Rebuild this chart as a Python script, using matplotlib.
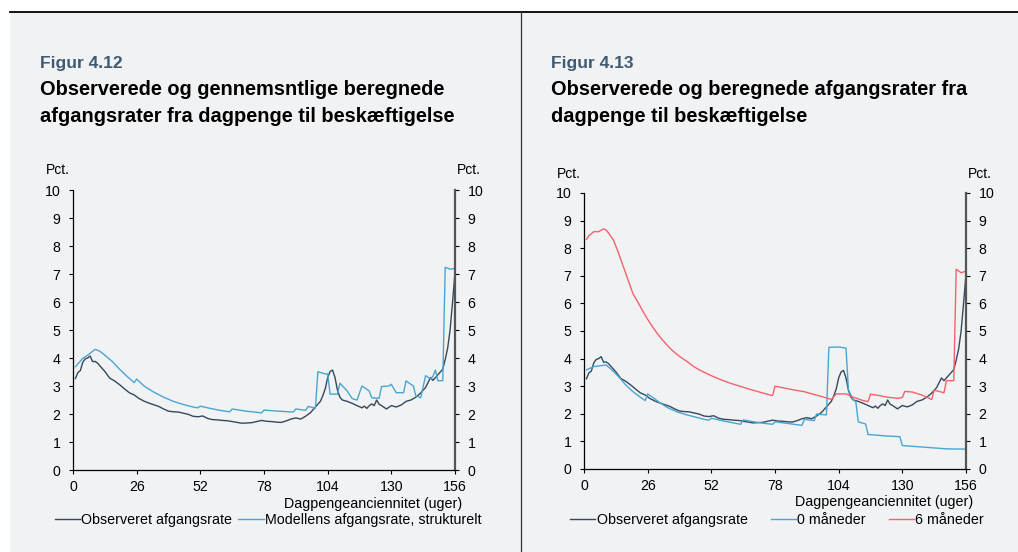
import numpy as np
import matplotlib.pyplot as plt
from matplotlib.lines import Line2D
from matplotlib.patches import Rectangle

plt.rcParams['font.family'] = ['Liberation Sans', 'DejaVu Sans']

# Observeret afgangsrate (same series in both figures)
obs_wk = [1, 2, 3, 4, 5, 6, 7, 8, 9, 10, 12, 13, 15, 17, 19, 21, 23, 25, 27, 29,
          31, 33, 35, 37, 39, 41, 43, 45, 47, 49, 51, 53, 55, 57, 59, 61, 63, 65,
          67, 69, 71, 73, 75, 77, 79, 81, 83, 85, 87, 89, 91, 93, 95, 97, 99, 101,
          102, 103, 104, 105, 106, 107, 108, 109, 110, 112, 114, 116, 118, 119,
          120, 121, 122, 123, 124, 125, 126, 128, 130, 132, 134, 136, 138, 140,
          142, 144, 146, 147, 148, 150, 151, 152, 153, 154, 155, 156]
obs_val = [3.27, 3.48, 3.55, 3.85, 3.97, 4.00, 4.07, 3.87, 3.88, 3.82, 3.62, 3.52,
           3.28, 3.18, 3.05, 2.90, 2.76, 2.68, 2.55, 2.46, 2.39, 2.33, 2.27, 2.18,
           2.10, 2.08, 2.07, 2.03, 1.99, 1.92, 1.90, 1.93, 1.84, 1.80, 1.79, 1.77,
           1.76, 1.73, 1.70, 1.67, 1.68, 1.69, 1.73, 1.77, 1.74, 1.73, 1.71, 1.70,
           1.75, 1.82, 1.86, 1.82, 1.92, 2.05, 2.25, 2.45, 2.65, 2.90, 3.30, 3.52,
           3.57, 3.30, 2.85, 2.60, 2.50, 2.45, 2.38, 2.30, 2.22, 2.28, 2.20, 2.30,
           2.36, 2.30, 2.50, 2.35, 2.30, 2.18, 2.30, 2.25, 2.32, 2.45, 2.50, 2.60,
           2.75, 2.95, 3.30, 3.20, 3.30, 3.50, 3.60, 3.95, 4.35, 5.00, 6.00, 7.05]

# Modellens afgangsrate, strukturelt (Figur 4.12)
mod_wk = [1, 4, 6, 9, 11, 13, 16, 19, 22, 25, 26, 29, 33, 37, 41, 45, 49, 51, 52,
          56, 60, 64, 65, 70, 74, 77, 78, 84, 90, 91, 95, 96, 99, 100, 103, 104,
          105, 108, 109, 112, 114, 116, 118, 121, 122, 125, 126, 129, 130, 132,
          135, 136, 139, 140, 142, 144, 146, 147, 148, 149, 151, 152, 154, 156]
mod_val = [3.69, 3.99, 4.10, 4.31, 4.24, 4.10, 3.88, 3.60, 3.35, 3.12, 3.25, 3.00,
           2.78, 2.60, 2.45, 2.34, 2.25, 2.22, 2.28, 2.20, 2.13, 2.08, 2.18, 2.11,
           2.07, 2.04, 2.14, 2.10, 2.07, 2.18, 2.13, 2.27, 2.21, 3.51, 3.43, 3.43,
           2.71, 2.71, 3.10, 2.82, 2.55, 2.50, 3.00, 2.82, 2.58, 2.56, 2.98, 3.00,
           3.06, 2.76, 2.76, 3.18, 3.00, 2.65, 2.58, 3.37, 3.25, 3.35, 3.57, 3.19,
           3.19, 7.24, 7.17, 7.20]

# 0 maaneder (Figur 4.13)
m0_wk = [1, 4, 9, 11, 14, 17, 20, 23, 25, 26, 28, 31, 34, 38, 42, 46, 50, 51, 52,
         57, 61, 64, 65, 70, 74, 77, 78, 84, 89, 90, 94, 95, 99, 100, 104, 107,
         108, 110, 111, 112, 115, 116, 123, 129, 130, 136, 142, 148, 156]
m0_val = [3.59, 3.71, 3.77, 3.62, 3.36, 3.05, 2.80, 2.60, 2.48, 2.72, 2.60, 2.40,
          2.23, 2.07, 1.96, 1.87, 1.78, 1.77, 1.84, 1.74, 1.67, 1.62, 1.78, 1.70,
          1.65, 1.62, 1.71, 1.64, 1.58, 1.80, 1.75, 1.99, 1.96, 4.41, 4.42, 4.38,
          2.86, 2.50, 2.44, 1.71, 1.63, 1.25, 1.20, 1.17, 0.85, 0.81, 0.77, 0.73,
          0.72]

# 6 maaneder (Figur 4.13)
m6_wk = [1, 2, 4, 6, 8, 9, 10, 12, 14, 16, 18, 20, 22, 24, 26, 28, 30, 32, 34, 36,
         39, 42, 45, 48, 52, 56, 60, 64, 68, 72, 76, 77, 78, 82, 86, 90, 94, 98,
         101, 103, 107, 110, 114, 116, 117, 120, 124, 128, 130, 131, 134, 138,
         142, 143, 147, 148, 151, 152, 154, 156]
m6_val = [8.32, 8.45, 8.60, 8.60, 8.70, 8.66, 8.55, 8.30, 7.85, 7.35, 6.85, 6.35,
          6.05, 5.72, 5.42, 5.15, 4.90, 4.68, 4.48, 4.30, 4.08, 3.90, 3.70, 3.55,
          3.38, 3.23, 3.10, 2.99, 2.88, 2.78, 2.68, 2.66, 3.00, 2.93, 2.86, 2.80,
          2.70, 2.60, 2.52, 2.72, 2.72, 2.60, 2.48, 2.44, 2.71, 2.67, 2.60, 2.56,
          2.59, 2.81, 2.79, 2.68, 2.52, 2.86, 2.76, 3.20, 3.20, 7.24, 7.11, 7.17]

xticks = [0, 26, 52, 78, 104, 130, 156]
yticks = list(range(0, 11))

c_obs = '#34495e'
c_blue = '#4aa5d2'
c_red = '#f4626a'
c_head = '#3f5b74'
bg = '#f1f2f4'

W, H = 1018, 552
fig = plt.figure(figsize=(W / 100, H / 100), dpi=100, facecolor='white')


def fx(px):
    return px / W


def fy(py):
    return 1 - py / H


# background panel, top rule, divider
fig.patches.append(Rectangle((fx(10), 0), 1 - fx(10), fy(12), transform=fig.transFigure,
                             facecolor=bg, edgecolor='none', zorder=-10))
fig.add_artist(Line2D([fx(10), 1], [fy(12), fy(12)], color='black', lw=1.3))
fig.add_artist(Line2D([fx(520.5), fx(520.5)], [0, fy(12)], color='#333333', lw=0.9))


def make_axes(left_px, top_px, bottom_px):
    ax = fig.add_axes([fx(left_px), fy(bottom_px), fx(382), (bottom_px - top_px) / H])
    ax.set_facecolor('none')
    ax.set_xlim(0, 156)
    ax.set_ylim(0, 10)
    ax.set_xticks(xticks)
    ax.set_yticks(yticks)
    ax.spines['top'].set_visible(False)
    ax.spines['left'].set_linewidth(0.9)
    ax.spines['bottom'].set_linewidth(0.9)
    ax.spines['right'].set_color('#555555')
    ax.spines['right'].set_linewidth(1.6)
    ax.tick_params(axis='both', direction='out', length=3, width=0.8,
                   labelsize=10.2, colors='black', pad=5)
    ax.tick_params(axis='y', right=True, labelright=True, pad=6)
    ax.tick_params(axis='x', pad=4)
    ax.set_xlabel('Dagpengeanciennitet (uger)', fontsize=10.3, ha='right',
                  labelpad=1)
    ax.xaxis.set_label_coords(1.018, -0.095)
    ax.text(-0.07, 1.07, 'Pct.', transform=ax.transAxes, fontsize=10,
            ha='left', va='center')
    ax.text(1.005, 1.07, 'Pct.', transform=ax.transAxes, fontsize=10,
            ha='left', va='center')
    return ax


lw = 1.0

# Figur 4.12
ax1 = make_axes(73, 190, 470)
h1, = ax1.plot(obs_wk, obs_val, color=c_obs, lw=lw)
h2, = ax1.plot(mod_wk, mod_val, color=c_blue, lw=lw)
fig.legend([h1, h2], ['Observeret afgangsrate', 'Modellens afgangsrate, strukturelt'],
           loc='center', bbox_to_anchor=(fx(268), fy(520)), ncol=2, frameon=False,
           fontsize=10.3, handlelength=1.75, handletextpad=0.1, columnspacing=0.45,
           borderpad=0)

fig.text(fx(40), fy(68), 'Figur 4.12', color=c_head, fontsize=12.5,
         fontweight='bold', va='baseline')
fig.text(fx(40), fy(95), 'Observerede og gennemsntlige beregnede', fontsize=14.4,
         fontweight='bold', va='baseline')
fig.text(fx(40), fy(122), 'afgangsrater fra dagpenge til beskæftigelse', fontsize=14.4,
         fontweight='bold', va='baseline')

# Figur 4.13
ax2 = make_axes(584, 193, 469)
g1, = ax2.plot(obs_wk, obs_val, color=c_obs, lw=lw)
g2, = ax2.plot(m0_wk, m0_val, color=c_blue, lw=lw)
g3, = ax2.plot(m6_wk, m6_val, color=c_red, lw=lw)
fig.legend([g1, g2, g3], ['Observeret afgangsrate', '0 måneder', '6 måneder'],
           loc='center', bbox_to_anchor=(fx(777), fy(520)), ncol=3, frameon=False,
           fontsize=10.3, handlelength=1.75, handletextpad=0.1, columnspacing=1.6,
           borderpad=0)

fig.text(fx(551), fy(68), 'Figur 4.13', color=c_head, fontsize=12.5,
         fontweight='bold', va='baseline')
fig.text(fx(551), fy(95), 'Observerede og beregnede afgangsrater fra', fontsize=14.4,
         fontweight='bold', va='baseline')
fig.text(fx(551), fy(122), 'dagpenge til beskæftigelse', fontsize=14.4,
         fontweight='bold', va='baseline')

fig.savefig('out.png', dpi=100, facecolor=fig.get_facecolor())
